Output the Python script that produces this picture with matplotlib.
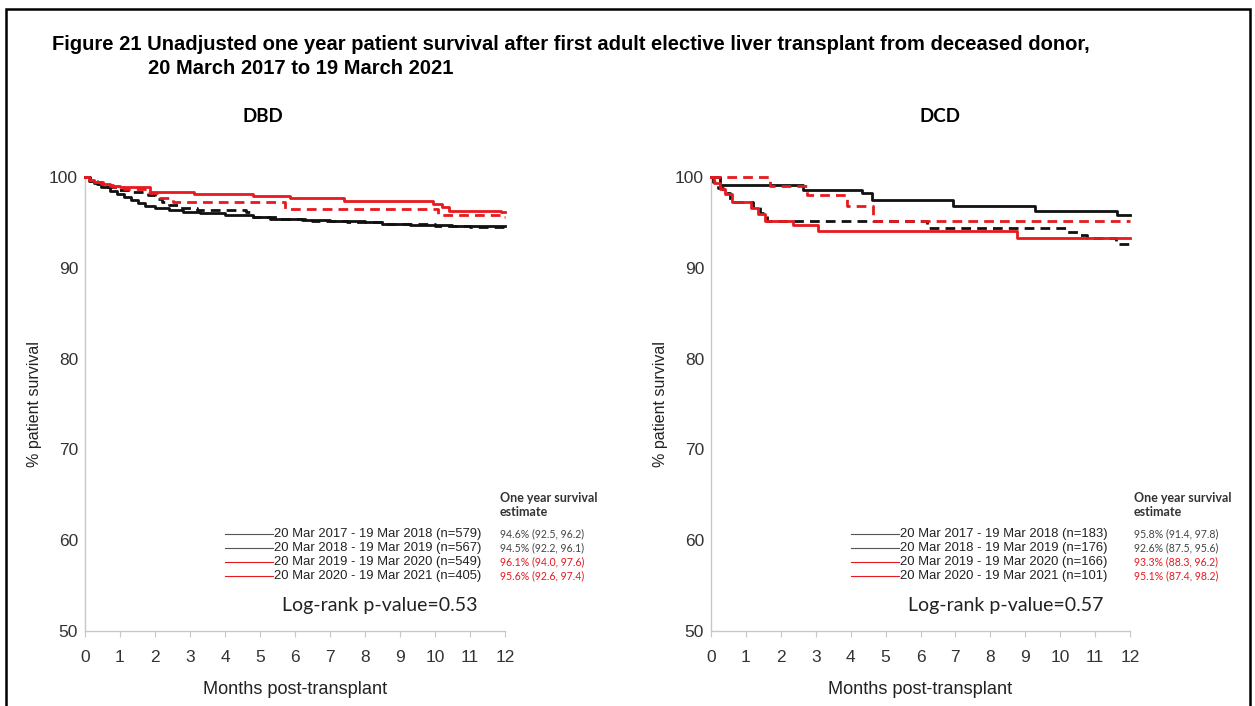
import matplotlib
matplotlib.use("Agg")
import matplotlib.pyplot as plt
from matplotlib.patches import Rectangle

# ---------------- data ----------------
months = list(range(0, 13))
yticks = [50, 60, 70, 80, 90, 100]

period_labels_dbd = ["20 Mar 2017 - 19 Mar 2018 (n=579)",
                     "20 Mar 2018 - 19 Mar 2019 (n=567)",
                     "20 Mar 2019 - 19 Mar 2020 (n=549)",
                     "20 Mar 2020 - 19 Mar 2021 (n=405)"]
estimates_dbd = ["94.6% (92.5, 96.2)", "94.5% (92.2, 96.1)",
                 "96.1% (94.0, 97.6)", "95.6% (92.6, 97.4)"]

period_labels_dcd = ["20 Mar 2017 - 19 Mar 2018 (n=183)",
                     "20 Mar 2018 - 19 Mar 2019 (n=176)",
                     "20 Mar 2019 - 19 Mar 2020 (n=166)",
                     "20 Mar 2020 - 19 Mar 2021 (n=101)"]
estimates_dcd = ["95.8% (91.4, 97.8)", "92.6% (87.5, 95.6)",
                 "93.3% (88.3, 96.2)", "95.1% (87.4, 98.2)"]

# DBD Kaplan-Meier steps (month of event, survival % after event)
dbd_1718_t = [0, 0.1, 0.25, 0.45, 0.7, 0.9, 1.1, 1.3, 1.5, 1.7, 2.0, 2.4, 2.8,
              3.3, 4.0, 4.8, 5.3, 6.2, 7.0, 8.0, 8.5, 9.3, 10.5]
dbd_1718_s = [100, 99.6, 99.3, 98.9, 98.5, 98.1, 97.8, 97.5, 97.1, 96.8, 96.6,
              96.4, 96.2, 96.0, 95.8, 95.6, 95.4, 95.3, 95.1, 95.0, 94.8, 94.7, 94.6]
dbd_1819_t = [0, 0.15, 0.35, 0.6, 0.9, 1.3, 1.8, 2.0, 2.2, 2.4, 2.7, 3.2, 4.6,
              4.8, 5.5, 6.5, 7.5, 8.5, 10.0, 11.0]
dbd_1819_s = [100, 99.6, 99.2, 98.9, 98.6, 98.4, 98.0, 97.6, 97.2, 96.9, 96.6,
              96.4, 96.1, 95.6, 95.4, 95.2, 95.0, 94.8, 94.6, 94.5]
dbd_1920_t = [0, 0.1, 0.25, 0.45, 0.7, 1.0, 1.86, 3.1, 4.8, 5.86, 7.4, 9.95,
              10.2, 10.4, 11.9]
dbd_1920_s = [100, 99.7, 99.4, 99.2, 99.0, 98.9, 98.4, 98.1, 97.9, 97.65,
              97.35, 97.0, 96.7, 96.3, 96.1]
dbd_2021_t = [0, 0.1, 0.3, 0.5, 0.8, 1.1, 1.8, 2.1, 2.5, 5.7, 10.1, 11.9]
dbd_2021_s = [100, 99.7, 99.4, 99.1, 98.9, 98.7, 98.2, 97.7, 97.2, 96.5, 95.8, 95.6]

# DCD Kaplan-Meier steps
dcd_1718_t = [0, 0.26, 2.64, 4.33, 4.6, 6.93, 9.28, 11.63]
dcd_1718_s = [100, 99.1, 98.6, 98.2, 97.5, 96.8, 96.3, 95.8]
dcd_1819_t = [0, 0.06, 0.2, 0.34, 0.54, 1.2, 1.4, 1.6, 6.19, 10.2, 10.5, 10.77, 11.6]
dcd_1819_s = [100, 99.4, 98.8, 98.2, 97.3, 96.7, 96.0, 95.1, 94.4, 93.9, 93.6,
              93.25, 92.6]
dcd_1920_t = [0, 0.08, 0.25, 0.4, 0.6, 1.15, 1.35, 1.55, 2.35, 3.07, 8.75]
dcd_1920_s = [100, 99.3, 98.7, 98.1, 97.2, 96.6, 95.9, 95.1, 94.7, 94.1, 93.3]
dcd_2021_t = [0, 1.69, 2.74, 3.89, 4.65]
dcd_2021_s = [100, 99.0, 98.0, 96.8, 95.1]

RED = "#e8191e"
BLACK = "#111111"
series_styles = [(BLACK, "-"), (BLACK, "--"), (RED, "-"), (RED, "--")]

W, H = 1255, 706
fig = plt.figure(figsize=(W / 100, H / 100), dpi=100)
fig.patch.set_facecolor("white")
renderer = fig.canvas.get_renderer()

SANS = ["Liberation Sans", "DejaVu Sans"]
CAL = ["Lato", "DejaVu Sans"]


def fx(px):
    return px / W


def fy(px):
    return 1 - px / H


def fit_width(txt, width_px):
    """Rescale a text's font size so that it spans width_px pixels."""
    w = txt.get_window_extent(renderer).width
    txt.set_fontsize(txt.get_fontsize() * width_px / w)
    return txt.get_fontsize()


# outer frame
fig.patches.append(Rectangle((fx(6), -0.05), fx(1250) - fx(6), fy(9) + 0.05,
                             transform=fig.transFigure, fill=False,
                             lw=1.8, ec="black", zorder=10))

t1 = fig.text(fx(52), fy(45),
              "Figure 21 Unadjusted one year patient survival after first adult "
              "elective liver transplant from deceased donor,",
              fontsize=12, fontweight="bold", family=SANS, va="center", ha="left")
title_size = fit_width(t1, 1030)
fig.text(fx(148), fy(68), "20 March 2017 to 19 March 2021",
         fontsize=title_size, fontweight="bold", family=SANS,
         va="center", ha="left")

panels = [
    dict(x0=85, x1=505, title="DBD", title_px=263, est_px=500,
         curves=[(dbd_1718_t, dbd_1718_s), (dbd_1819_t, dbd_1819_s),
                 (dbd_1920_t, dbd_1920_s), (dbd_2021_t, dbd_2021_s)],
         labels=period_labels_dbd, est=estimates_dbd, p="Log-rank p-value=0.53"),
    dict(x0=711, x1=1130, title="DCD", title_px=940, est_px=1134,
         curves=[(dcd_1718_t, dcd_1718_s), (dcd_1819_t, dcd_1819_s),
                 (dcd_1920_t, dcd_1920_s), (dcd_2021_t, dcd_2021_s)],
         labels=period_labels_dcd, est=estimates_dcd, p="Log-rank p-value=0.57"),
]

y_top, y_bot = 177, 631
for pnl in panels:
    x0, x1 = pnl["x0"], pnl["x1"]
    ax = fig.add_axes([fx(x0), fy(y_bot), fx(x1) - fx(x0), (y_bot - y_top) / H])
    ax.set_xlim(0, 12)
    ax.set_ylim(50, 100)
    ax.set_xticks(months)
    ax.set_yticks(yticks)
    for s in ["top", "right"]:
        ax.spines[s].set_visible(False)
    for s in ["left", "bottom"]:
        ax.spines[s].set_color("#c8c8c8")
        ax.spines[s].set_linewidth(1.0)
    ax.tick_params(axis="x", length=4, color="#c8c8c8", pad=10,
                   labelsize=12.5, labelcolor="#333333")
    ax.tick_params(axis="y", length=0, pad=5, labelsize=12.5, labelcolor="#333333")
    for lab in ax.get_xticklabels() + ax.get_yticklabels():
        lab.set_family(SANS)

    for (t, s), (col, ls) in zip(pnl["curves"], series_styles):
        tt = list(t) + [12]
        ss = list(s) + [s[-1]]
        kw = dict(color=col, lw=2.0, where="post", clip_on=False, zorder=3)
        if ls == "--":
            kw.update(linestyle=(0, (3.5, 2.2)))
        ax.step(tt, ss, **kw)

    cx = (x0 + x1) / 2
    fig.text(fx(pnl["title_px"]), fy(117), pnl["title"], fontsize=13.5,
             fontweight="bold", family=CAL, ha="center", va="center")
    xl = fig.text(fx(cx), fy(690), "Months post-transplant", fontsize=12,
                  family=SANS, ha="center", va="center", color="#222222")
    fit_width(xl, 185)
    fig.text(fx(x0 - 50), fy((y_top + y_bot) / 2), "% patient survival",
             fontsize=11.5, family=SANS, rotation=90, ha="center", va="center",
             color="#222222")

    # survival table beneath the curves
    def ax_x(px):
        return (px - x0) / (x1 - x0)

    def ax_y(px):
        return (y_bot - px) / (y_bot - y_top)

    est_x = ax_x(pnl["est_px"])
    for txt, ypx in [("One year survival", 498), ("estimate", 512)]:
        ax.text(est_x, ax_y(ypx), txt, transform=ax.transAxes,
                fontsize=9, fontweight="bold", family=CAL, ha="left",
                va="center", color="#333333")
    rows = [534, 548, 562, 576]
    for i, (lab, est) in enumerate(zip(pnl["labels"], pnl["est"])):
        col = "#555555" if i < 2 else RED
        ax.plot([ax_x(x0 + 140), ax_x(x0 + 188)], [ax_y(rows[i])] * 2,
                transform=ax.transAxes, color=col, lw=0.8, clip_on=False)
        ax.text(ax_x(x0 + 189), ax_y(rows[i]), lab, transform=ax.transAxes,
                fontsize=9.4, family=SANS, ha="left", va="center", color="#222222")
        ax.text(est_x, ax_y(rows[i]), est, transform=ax.transAxes, fontsize=7.6,
                family=CAL, ha="left", va="center",
                color="#444444" if i < 2 else RED)
    ax.text(ax_x(x0 + 197), ax_y(606), pnl["p"], transform=ax.transAxes,
            fontsize=14, family=CAL, ha="left", va="center", color="#222222")

fig.savefig("out.png", dpi=100, facecolor="white")
